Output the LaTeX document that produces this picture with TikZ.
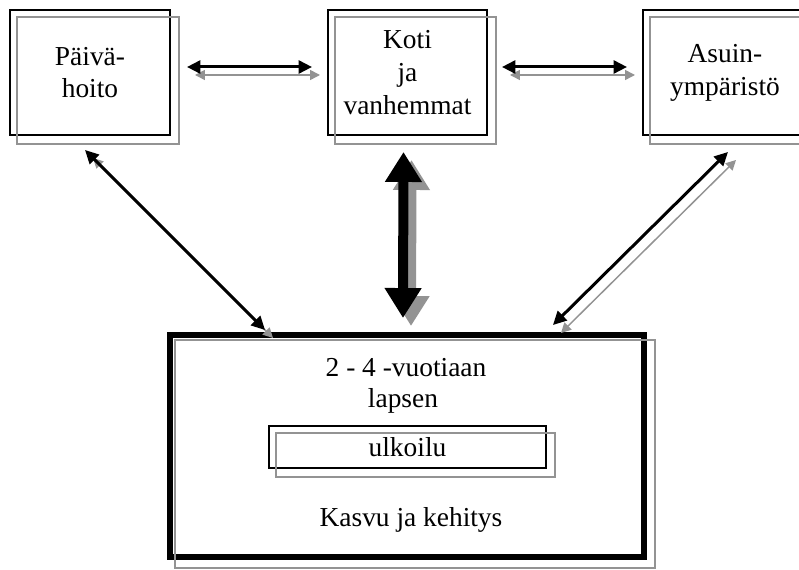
\documentclass[tikz,border=0pt]{standalone}
\usepackage{fontspec}
\setmainfont{Liberation Serif}
\usetikzlibrary{arrows.meta,positioning}
\definecolor{scangray}{HTML}{939393}
\newcommand{\txtfont}{\fontsize{15.6}{18.7}\selectfont}
\tikzset{
  box/.style={draw=black, line width=0.04cm, minimum width=3.2cm,
    minimum height=2.5cm, inner sep=0pt, align=center, font=\txtfont},
  bigbox/.style={draw=black, line width=0.12cm, minimum width=9.48cm,
    minimum height=4.44cm, inner sep=0pt},
  innerbox/.style={draw=black, line width=0.04cm, minimum width=5.54cm,
    minimum height=0.84cm, inner sep=0pt, font=\txtfont},
  txt/.style={font=\txtfont, anchor=base, inner sep=0pt},
  % the grey copy that every box and arrow carries
  ghost/.style={draw=scangray, line width=0.03cm},
  link/.style={<->, >={Triangle[length=0.27cm,width=0.26cm]}, line width=0.06cm},
  ghostlink/.style={<->, >={Triangle[length=0.2cm,width=0.2cm]}, draw=scangray,
    fill=scangray, line width=0.03cm, transform canvas={shift={(8,8)}}},
  fat/.style={<->, >={Triangle[length=0.6cm,width=0.7cm]}, line width=0.2cm},
  ghostfat/.style={fat, draw=scangray, fill=scangray,
    transform canvas={shift={(8,8)}}},
}

\begin{document}
\begin{tikzpicture}[x=0.02cm,y=-0.02cm]
  \useasboundingbox (0,0) rectangle (799,570);
  % top row
  \node[box] (pv) at (90,72.5) {P\"aiv\"a-\\hoito};
  \node[box, minimum width=3.18cm] (koti) at (407.5,72.5) {Koti\\ja\\vanhemmat};
  \node[box, minimum width=3.28cm] (asuin) at (725,72.5) {Asuin-\\ymp\"arist\"o};
  % the child
  \node[bigbox] (lapsi) at (407,446) {};
  \node[innerbox] (ulko) at (407.5,447) {ulkoilu};
  \node[txt] (ika) at (406,377) {2 - 4 -vuotiaan};
  \node[txt] (laps) at (403,408) {lapsen};
  \node[txt] (kasvu) at (411,527) {Kasvu ja kehitys};
  % grey copies of the boxes
  \foreach \n in {pv,koti,asuin,ulko}
    \draw[ghost] ([shift={(8,8)}]\n.north west) rectangle ([shift={(8,8)}]\n.south east);
  \draw[ghost, line width=0.05cm] ([shift={(8,8)}]lapsi.north west)
    rectangle ([shift={(8,8)}]lapsi.south east);
  % arrows, grey copy first
  \draw[ghostlink] ([shift={(16,-5.5)}]pv.east) -- ([shift={(-15,-5.5)}]koti.west);
  \draw[link] ([shift={(16,-5.5)}]pv.east) -- ([shift={(-15,-5.5)}]koti.west);
  \draw[ghostlink] ([shift={(14,-5.5)}]koti.east) -- ([shift={(-15,-5.5)}]asuin.west);
  \draw[link] ([shift={(14,-5.5)}]koti.east) -- ([shift={(-15,-5.5)}]asuin.west);
  \draw[ghostfat] ([shift={(-4,16)}]koti.south) -- ([shift={(-4,-14)}]lapsi.north);
  \draw[fat] ([shift={(-4,16)}]koti.south) -- ([shift={(-4,-14)}]lapsi.north);
  \draw[ghostlink] ([shift={(-5,14)}]pv.south) -- ([shift={(98,-2)}]lapsi.north west);
  \draw[link] ([shift={(-5,14)}]pv.south) -- ([shift={(98,-2)}]lapsi.north west);
  \draw[ghostlink] ([shift={(3,16)}]asuin.south) -- ([shift={(-94,-7)}]lapsi.north east);
  \draw[link] ([shift={(3,16)}]asuin.south) -- ([shift={(-94,-7)}]lapsi.north east);
\end{tikzpicture}
\end{document}
